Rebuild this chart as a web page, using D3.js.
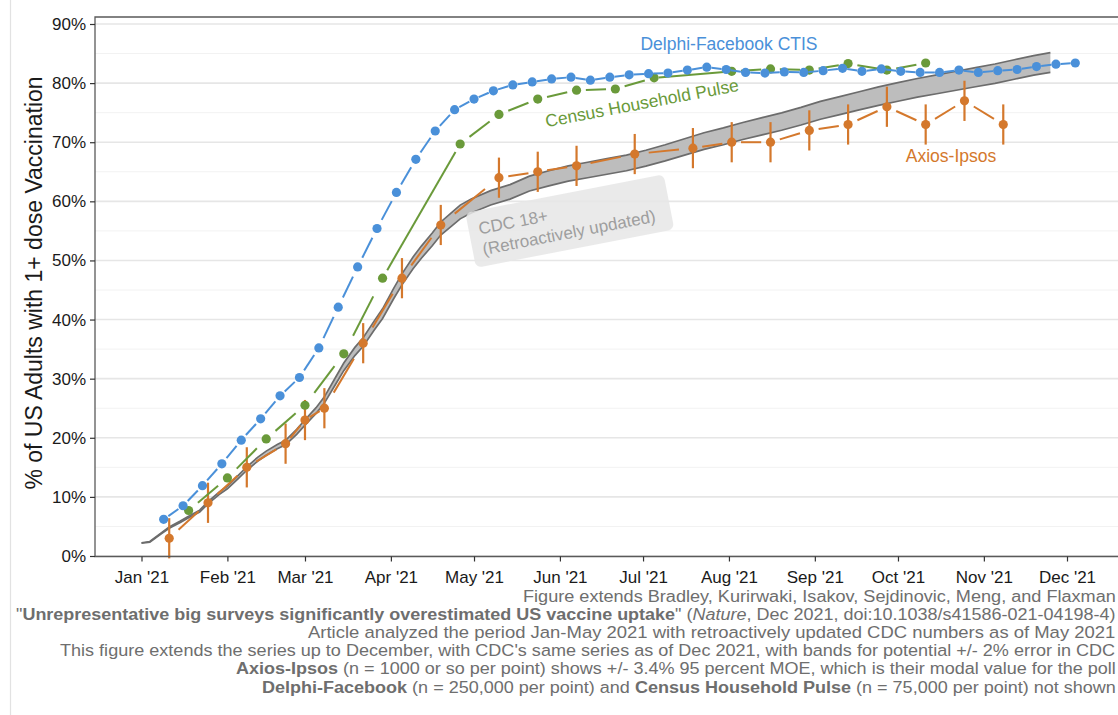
<!DOCTYPE html>
<html><head><meta charset="utf-8">
<script src="https://cdn.jsdelivr.net/npm/d3@7"></script>
<style>
body{margin:0;background:#fff}
svg{display:block;font-family:"Liberation Sans",Arial,Helvetica,sans-serif}
</style>
</head><body>
<svg id="chart" width="1118" height="715"></svg>
<script>
// ---------------- DATA ----------------
const monthTicks = ["2021-01-01","2021-02-01","2021-03-01","2021-04-01","2021-05-01","2021-06-01",
  "2021-07-01","2021-08-01","2021-09-01","2021-10-01","2021-11-01","2021-12-01"];
const yTicks = [0,10,20,30,40,50,60,70,80,90];

// Delphi-Facebook CTIS (weekly)
const delphiDates = ["2021-01-09","2021-01-16","2021-01-23","2021-01-30","2021-02-06","2021-02-13","2021-02-20","2021-02-27",
  "2021-03-06","2021-03-13","2021-03-20","2021-03-27","2021-04-03","2021-04-10","2021-04-17","2021-04-24",
  "2021-05-01","2021-05-08","2021-05-15","2021-05-22","2021-05-29","2021-06-05","2021-06-12","2021-06-19","2021-06-26",
  "2021-07-03","2021-07-10","2021-07-17","2021-07-24","2021-07-31","2021-08-07","2021-08-14","2021-08-21","2021-08-28",
  "2021-09-04","2021-09-11","2021-09-18","2021-09-25","2021-10-02","2021-10-09","2021-10-16","2021-10-23","2021-10-30",
  "2021-11-06","2021-11-13","2021-11-20","2021-11-27","2021-12-04"];
const delphiValues = [6.2,8.5,11.9,15.6,19.6,23.2,27.1,30.2,
  35.2,42.1,48.9,55.4,61.5,67.1,71.9,75.5,
  77.3,78.7,79.7,80.2,80.7,81.0,80.5,81.0,81.4,
  81.6,81.7,82.2,82.7,82.3,81.8,81.7,81.9,81.8,
  82.1,82.5,82.0,82.4,82.0,81.8,81.8,82.2,81.8,
  82.1,82.3,82.8,83.2,83.4];

// Census Household Pulse (biweekly, with two gaps)
const censusDates = ["2021-01-18","2021-02-01","2021-02-15","2021-03-01","2021-03-15","2021-03-29","2021-04-26",
  "2021-05-10","2021-05-24","2021-06-07","2021-06-21","2021-07-05","2021-08-02","2021-08-16","2021-08-30",
  "2021-09-13","2021-09-27","2021-10-11"];
const censusValues = [7.7,13.2,19.8,25.5,34.2,47.0,69.7,74.7,77.3,78.8,79.0,80.9,82.0,82.4,82.2,83.3,82.2,83.4];

// Axios-Ipsos (with +/- 3.4% MOE)
const axiosDates = ["2021-01-11","2021-01-25","2021-02-08","2021-02-22","2021-03-01","2021-03-08","2021-03-22",
  "2021-04-05","2021-04-19","2021-05-10","2021-05-24","2021-06-07","2021-06-28","2021-07-19","2021-08-02",
  "2021-08-16","2021-08-30","2021-09-13","2021-09-27","2021-10-11","2021-10-25","2021-11-08"];
const axiosValues = [3,9,15,19,23,25,36,47,56,64,65,66,68,69,70,70,72,73,76,73,77,73];
const axiosMOE = 3.4;

// CDC 18+ (retroactively updated), +/- 2% band
const cdcDates = ["2021-01-01","2021-01-04","2021-01-08","2021-01-11","2021-01-15","2021-01-18","2021-01-22","2021-01-25",
  "2021-01-29","2021-02-01","2021-02-05","2021-02-08","2021-02-12","2021-02-15","2021-02-19","2021-02-22","2021-02-26",
  "2021-03-01","2021-03-05","2021-03-08","2021-03-12","2021-03-15","2021-03-19","2021-03-22","2021-03-26","2021-03-29",
  "2021-04-02","2021-04-05","2021-04-09","2021-04-12","2021-04-16","2021-04-19","2021-04-23","2021-04-26","2021-04-30",
  "2021-05-07","2021-05-14","2021-05-21","2021-05-28","2021-06-04","2021-06-11","2021-06-18","2021-06-25",
  "2021-07-02","2021-07-09","2021-07-16","2021-07-23","2021-07-30","2021-08-06","2021-08-13","2021-08-20","2021-08-27",
  "2021-09-03","2021-09-10","2021-09-17","2021-09-24","2021-10-01","2021-10-08","2021-10-15","2021-10-22","2021-10-29",
  "2021-11-05","2021-11-12","2021-11-19","2021-11-25"];
const cdcValues = [2.2,2.4,3.8,4.8,5.8,6.6,7.6,9.0,
  10.6,11.6,13.4,14.8,16.4,17.4,18.5,19.2,21.0,
  22.6,24.6,26.4,29.6,32.0,34.6,36.2,39.0,41.0,
  44.4,46.8,49.6,51.4,53.6,55.4,57.0,58.2,59.2,
  60.6,61.6,63.0,63.9,64.7,65.3,65.9,66.5,
  67.3,68.2,69.2,70.2,71.0,71.9,72.7,73.5,74.4,
  75.4,76.2,77.0,77.8,78.5,79.2,79.8,80.4,81.0,
  81.6,82.3,83.0,83.5];
const cdcBandPct = 0.02;

const captionLines = [
  [["Figure extends Bradley, Kurirwaki, Isakov, Sejdinovic, Meng, and Flaxman","n"]],
  [["\"","n"],["Unrepresentative big surveys significantly overestimated US vaccine uptake","b"],["\" (","n"],["Nature","i"],[", Dec 2021, doi:10.1038/s41586-021-04198-4)","n"]],
  [["Article analyzed the period Jan-May 2021 with retroactively updated CDC numbers as of May 2021","n"]],
  [["This figure extends the series up to December, with CDC's same series as of Dec 2021, with bands for potential +/- 2% error in CDC","n"]],
  [["Axios-Ipsos","b"],[" (n = 1000 or so per point) shows +/- 3.4% 95 percent MOE, which is their modal value for the poll","n"]],
  [["Delphi-Facebook","b"],[" (n = 250,000 per point) and ","n"],["Census Household Pulse","b"],[" (n = 75,000 per point) not shown","n"]]
];
const captionLeft = [523, 16, 308, 60, 236, 262];

// ---------------- STYLE ----------------
const colBlue = "#4a90d9", colGreen = "#6a9a3a", colOrange = "#d4782c";
const W = 1118, H = 715;
const plot = {left: 95, top: 17, bottom: 556.5};

const parse = d3.utcParse("%Y-%m-%d");
const svg = d3.select("#chart");

const x = d3.scaleUtc().domain([parse("2021-01-01"), parse("2021-12-01")]).range([141.5, 1067]);
const y = d3.scaleLinear().domain([0, 90]).range([556, 24]);

const mk = (dates, vals) => dates.map((d,i)=>({date: parse(d), v: vals[i]}));
const delphi = mk(delphiDates, delphiValues);
const census = mk(censusDates, censusValues);
const axios = mk(axiosDates, axiosValues);
const cdc = mk(cdcDates, cdcValues);

// faint left border of figure
svg.append("line").attr("x1",10.5).attr("x2",10.5).attr("y1",0).attr("y2",H)
  .attr("stroke","#e2e2e2").attr("stroke-width",1.2);

// grid
const grid = svg.append("g");
d3.range(5, 90, 10).forEach(v => grid.append("line")
  .attr("x1",plot.left).attr("x2",W).attr("y1",y(v)).attr("y2",y(v))
  .attr("stroke","#f2f2f2").attr("stroke-width",1));
yTicks.forEach(v => grid.append("line")
  .attr("x1",plot.left).attr("x2",W).attr("y1",y(v)).attr("y2",y(v))
  .attr("stroke","#e6e6e6").attr("stroke-width",1.6));

// CDC band
const area = d3.area().x(d=>x(d.date)).y0(d=>y(d.v*(1-cdcBandPct))).y1(d=>y(d.v*(1+cdcBandPct)));
svg.append("path").datum(cdc).attr("d",area).attr("fill","#bdbdbd");
[1-cdcBandPct, 1+cdcBandPct].forEach(f=>{
  svg.append("path").datum(cdc)
    .attr("d", d3.line().x(d=>x(d.date)).y(d=>y(d.v*f)))
    .attr("fill","none").attr("stroke","#6c6c6c").attr("stroke-width",1.7);
});

// segment lines: each segment shows a dash in the middle; long gaps drawn solid
function drawSegments(data, color, solidAfterDays, frac, width) {
  const g = svg.append("g");
  for (let i = 1; i < data.length; i++) {
    const p = data[i-1], q = data[i];
    const x1 = x(p.date), y1 = y(p.v), x2 = x(q.date), y2 = y(q.v);
    const days = (q.date - p.date) / 864e5;
    const t = days > solidAfterDays ? 0.06 : frac;
    g.append("line")
      .attr("x1", x1 + (x2-x1)*t).attr("y1", y1 + (y2-y1)*t)
      .attr("x2", x2 - (x2-x1)*t).attr("y2", y2 - (y2-y1)*t)
      .attr("stroke", color).attr("stroke-width", width).attr("stroke-linecap","butt");
  }
  return g;
}

// Axios
drawSegments(axios, colOrange, 25, 0.24, 2);
svg.append("g").selectAll("line").data(axios).join("line")
  .attr("x1",d=>x(d.date)).attr("x2",d=>x(d.date))
  .attr("y1",d=>y(d.v-axiosMOE)).attr("y2",d=>y(d.v+axiosMOE))
  .attr("stroke",colOrange).attr("stroke-width",2.2);
svg.append("g").selectAll("circle").data(axios).join("circle")
  .attr("cx",d=>x(d.date)).attr("cy",d=>y(d.v)).attr("r",4.6).attr("fill",colOrange);

// Census
drawSegments(census, colGreen, 20, 0.24, 2);
svg.append("g").selectAll("circle").data(census).join("circle")
  .attr("cx",d=>x(d.date)).attr("cy",d=>y(d.v)).attr("r",4.6).attr("fill",colGreen);

// Delphi
drawSegments(delphi, colBlue, 20, 0.24, 2);
svg.append("g").selectAll("circle").data(delphi).join("circle")
  .attr("cx",d=>x(d.date)).attr("cy",d=>y(d.v)).attr("r",4.6).attr("fill",colBlue);

// panel frame (left, top, bottom)
svg.append("path")
  .attr("d", `M${W+2},${plot.top}H${plot.left}V${plot.bottom}H${W+2}`)
  .attr("fill","none").attr("stroke","#5a5a5a").attr("stroke-width",1.3);

// axes
const xAxis = d3.axisBottom(x).tickValues(monthTicks.map(parse)).tickFormat(d3.utcFormat("%b '%y")).tickSize(5).tickPadding(9);
const gx = svg.append("g").attr("transform",`translate(0,${plot.bottom})`).call(xAxis);
gx.select(".domain").remove();
gx.selectAll("line").attr("stroke","#333").attr("stroke-width",1.2);
gx.selectAll("text").attr("fill","#1a1a1a").style("font-size","17px").attr("font-family",null);

const yAxis = d3.axisLeft(y).tickValues(yTicks).tickFormat(d=>d+"%").tickSize(5).tickPadding(4);
const gy = svg.append("g").attr("transform",`translate(${plot.left},0)`).call(yAxis);
gy.select(".domain").remove();
gy.selectAll("line").attr("stroke","#333").attr("stroke-width",1.2);
gy.selectAll("text").attr("fill","#1a1a1a").style("font-size","17px").attr("font-family",null);

// y axis title
svg.append("text").attr("transform",`translate(42,283) rotate(-90)`)
  .attr("text-anchor","middle").style("font-size","23px").attr("fill","#1a1a1a")
  .text("% of US Adults with 1+ dose Vaccination");

// series labels
svg.append("text").attr("x",729).attr("y",49.5).attr("text-anchor","middle")
  .style("font-size","17.5px").attr("fill",colBlue).text("Delphi-Facebook CTIS");
svg.append("text").attr("transform","translate(643,109) rotate(-10.7)").attr("text-anchor","middle")
  .style("font-size","17.5px").attr("fill",colGreen).text("Census Household Pulse");
svg.append("text").attr("x",951).attr("y",162).attr("text-anchor","middle")
  .style("font-size","17.5px").attr("fill",colOrange).text("Axios-Ipsos");

// CDC label box
const cdcG = svg.append("g").attr("transform","translate(570,222) rotate(-11)");
cdcG.append("rect").attr("x",-101).attr("y",-29).attr("width",202).attr("height",56).attr("rx",6)
  .attr("fill","#e6e6e6").attr("opacity",0.85);
cdcG.append("text").attr("x",-91).attr("y",-5).style("font-size","17px").attr("fill","#9e9e9e").text("CDC 18+");
cdcG.append("text").attr("x",-91).attr("y",16).style("font-size","17px").attr("fill","#9e9e9e").text("(Retroactively updated)");

// caption
const capG = svg.append("g");
captionLines.forEach((parts, i) => {
  const t = capG.append("text").attr("x",0).attr("y",0).style("font-size","15.6px").attr("fill","#6e6e6e");
  parts.forEach(([s, st]) => {
    const ts = t.append("tspan").text(s);
    if (st === "b") ts.attr("font-weight","bold");
    if (st === "i") ts.attr("font-style","italic");
  });
  const w = t.node().getComputedTextLength();
  const target = 1116 - captionLeft[i];
  const sx = target / w;
  t.attr("transform", `translate(${captionLeft[i]},${601.5 + i*18.2}) scale(${sx},1)`);
});
</script>
</body></html>
